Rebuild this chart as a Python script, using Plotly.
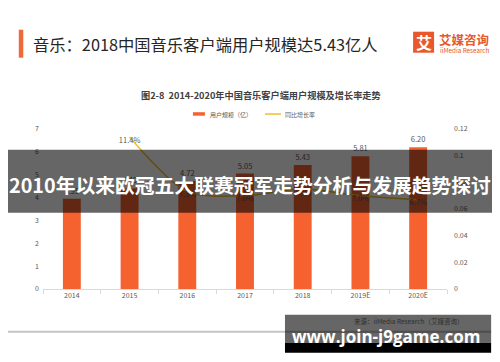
import plotly.graph_objects as go

# ---- data ----
years = ["2014", "2015", "2016", "2017", "2018", "2019E", "2020E"]
users = [3.95, 4.40, 4.72, 5.05, 5.43, 5.81, 6.20]          # 用户规模（亿）
growth = [None, 0.114, 0.073, 0.070, 0.075, 0.070, 0.067]   # 同比增长率
growth_labels = ["", "11.4%", "7.3%", "7.0%", "7.5%", "7.0%", "6.7%"]
left_ticks = [0, 1, 2, 3, 4, 5, 6, 7]
right_ticks = [0, 0.02, 0.04, 0.06, 0.08, 0.1, 0.12]
right_tick_text = ["0", "0.02", "0.04", "0.06", "0.08", "0.1", "0.12"]

title_text = "音乐：2018中国音乐客户端用户规模达5.43亿人"
subtitle_text = "图2-8  2014-2020年中国音乐客户端用户规模及增长率走势"
overlay_text = "2010年以来欧冠五大联赛冠军走势分析与发展趋势探讨"
watermark_text = "www.join-j9game.com"
source_text = "来源：iiMedia Research（艾媒咨询）"

FONT = "Noto Sans CJK SC, Noto Sans, sans-serif"
BAR_C = "#F5622F"
LINE_C = "#F2BE2C"
LOGO_C = "#E8582B"
TXT_C = "#595959"

W, H = 500, 362
OFF = 8  # default page body margin
L, R, T, B = 43.2, 446.9, 129.3, 289.3   # plot area in screen pixels


def px(x):
    return (x - L) / (R - L)


def py(y):
    return (B - y) / (B - T)


fig = go.Figure()
fig.add_trace(go.Bar(
    x=years, y=users, name="用户规模（亿）",
    marker=dict(color=BAR_C, line=dict(width=0)),
    text=[f"{v:.2f}" for v in users], textposition="outside",
    textfont=dict(family=FONT, size=7.5, color=TXT_C),
    cliponaxis=False, showlegend=False,
))
fig.add_trace(go.Scatter(
    x=years, y=growth, name="同比增长率", yaxis="y2",
    mode="lines+text", line=dict(color=LINE_C, width=1.5, shape="spline", smoothing=0.8),
    text=growth_labels, textposition="bottom center",
    textfont=dict(family=FONT, size=7.5, color=TXT_C),
    cliponaxis=False, showlegend=False,
))

shapes = []
annos = []


def rect(x0, y0, x1, y1, color, layer="above"):
    shapes.append(dict(type="rect", xref="paper", yref="paper",
                       x0=px(x0), x1=px(x1), y0=py(y0), y1=py(y1),
                       fillcolor=color, line=dict(width=0), layer=layer))


def text(x, y, s, size, color, xanchor="left", bold=False, family=FONT):
    annos.append(dict(xref="paper", yref="paper", x=px(x), y=py(y), text=(f"<b>{s}</b>" if bold else s),
                      showarrow=False, xanchor=xanchor, yanchor="middle",
                      font=dict(family=family, size=size, color=color)))


# header
rect(19, 30, 23.5, 58, "#EE6A3A")
text(31, 44, title_text, 16.3, "#262626")
rect(413, 32, 434, 53, LOGO_C)
annos.append(dict(xref="paper", yref="paper", x=px(423.5), y=py(42.5), text="<b>艾</b>", showarrow=False,
                  xanchor="center", yanchor="middle", font=dict(family=FONT, size=16, color="white")))
text(437, 40, "<b>艾媒咨询</b>", 12.5, LOGO_C)
text(437.5, 50.5, "iiMedia Research", 6.3, LOGO_C)

# subtitle + legend
text(261.5, 95, subtitle_text, 9.2, "#404040", xanchor="center", bold=True)
rect(193, 112.5, 205, 116, BAR_C)
text(208, 114.3, "用户规模（亿）", 6, TXT_C)
shapes.append(dict(type="line", xref="paper", yref="paper", x0=px(265), x1=px(281), y0=py(114.3), y1=py(114.3),
                   line=dict(color=LINE_C, width=1.5)))
text(283, 114.3, "同比增长率", 6, TXT_C)

# footer
shapes.append(dict(type="line", xref="paper", yref="paper", x0=px(0), x1=px(491), y0=py(332), y1=py(332),
                   line=dict(color="#C4C4C4", width=2), layer="above"))
text(493, 332, "Inc", 6, "#8a8a8a")
text(352, 321.5, source_text, 6.5, "#2e2e2e")

# overlays
rect(6, 150, 494, 213, "rgba(0,0,0,0.6)")
text(250, 184.5, overlay_text, 19.8, "white", xanchor="center", bold=True)
rect(285, 315, 491, 343, "rgba(0,0,0,0.6)")
rect(285, 343, 491, 353, "rgba(0,0,0,1)")
text(385.5, 336.5, watermark_text, 17, "white", xanchor="center", bold=True,
     family="Open Sans, DejaVu Sans, sans-serif")

fig.update_layout(
    width=W, height=H,
    margin=dict(l=43 - OFF, r=53 + OFF, t=129 - OFF, b=73 + OFF, pad=0),
    paper_bgcolor="white", plot_bgcolor="white",
    bargap=0.69,
    font=dict(family=FONT, size=7, color=TXT_C),
    xaxis=dict(type="category", showgrid=False, showline=True, linecolor="#D9D9D9", linewidth=1,
               ticks="outside", tickson="boundaries", ticklen=4, tickcolor="#D9D9D9",
               tickfont=dict(family=FONT, size=7, color=TXT_C), zeroline=False, fixedrange=True),
    yaxis=dict(range=[0, 7], tickvals=left_ticks, showgrid=False, zeroline=False, showline=False,
               ticks="", ticklabelstandoff=3, tickfont=dict(family=FONT, size=7, color=TXT_C)),
    yaxis2=dict(range=[0, 0.12], tickvals=right_ticks, ticktext=right_tick_text, overlaying="y",
                side="right", showgrid=False, zeroline=False, showline=False, ticks="",
                ticklabelstandoff=6, tickfont=dict(family=FONT, size=7, color=TXT_C)),
    shapes=shapes, annotations=annos, showlegend=False,
)

fig.write_html("out.html")
